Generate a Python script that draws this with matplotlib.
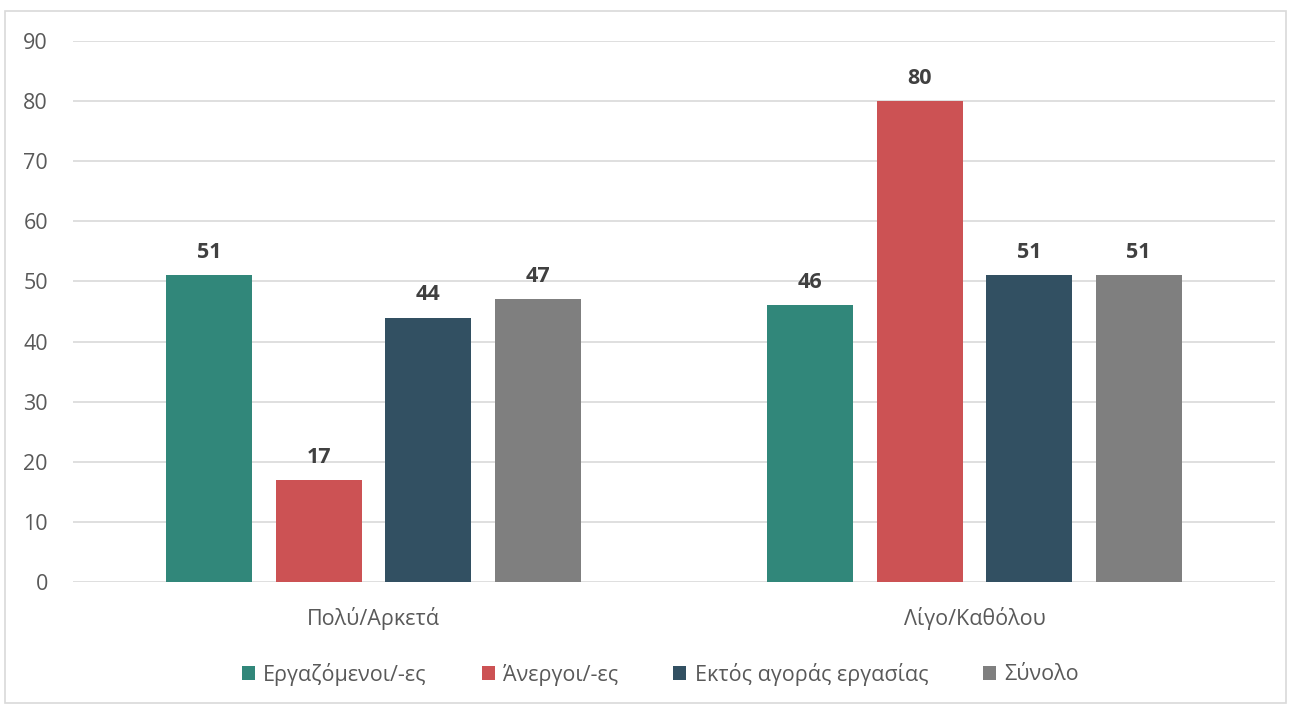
import matplotlib
matplotlib.use('Agg')
import matplotlib.pyplot as plt
from matplotlib.patches import Rectangle
import numpy as np

categories = ['Πολύ/Αρκετά', 'Λίγο/Καθόλου']
series_names = ['Εργαζόμενοι/-ες', 'Άνεργοι/-ες', 'Εκτός αγοράς εργασίας', 'Σύνολο']
employed = [51, 46]
unemployed = [17, 80]
outside = [44, 51]
total = [47, 51]
yticks = [0, 10, 20, 30, 40, 50, 60, 70, 80, 90]

colors = ['#31877A', '#CC5254', '#325062', '#7F7F7F']

plt.rcParams['font.family'] = ['Open Sans', 'DejaVu Sans']

fig = plt.figure(figsize=(12.9, 7.06), dpi=100)
# outer chart border
fig.patches.append(Rectangle((5 / 1290, 3 / 706), 1281 / 1290, 692 / 706,
                             transform=fig.transFigure, fill=False,
                             edgecolor='#D9D9D9', linewidth=1.2))

ax = fig.add_axes([73 / 1290, 1 - 582 / 706, 1202 / 1290, 541 / 706])

x = np.arange(len(categories))
width = 0.143
step = 0.182
for i, (vals, name) in enumerate(zip([employed, unemployed, outside, total], series_names)):
    pos = x + (i - 1.5) * step
    bars = ax.bar(pos, vals, width, color=colors[i], label=name, zorder=3)
    for b, v in zip(bars, vals):
        ax.text(b.get_x() + b.get_width() / 2, v + 2.0, str(v), ha='center',
                va='bottom', fontsize=15.5, fontweight='bold', color='#404040')

ax.set_xlim(-0.5, 1.5)
ax.set_ylim(0, 90)
ax.set_yticks(yticks)
ax.set_xticks(x)
ax.set_xticklabels(categories)
ax.grid(axis='y', color='#D9D9D9', linewidth=1.2, zorder=0)
for s in ax.spines.values():
    s.set_visible(False)
ax.tick_params(axis='both', length=0, labelsize=15.5, labelcolor='#595959')
ax.tick_params(axis='y', pad=18)
ax.tick_params(axis='x', pad=18)

handles, labels = ax.get_legend_handles_labels()
fig.legend(handles, labels, loc='center', bbox_to_anchor=(0.512, 1 - 674 / 706),
           ncol=4, frameon=False, fontsize=15.5, handlelength=0.6, handleheight=0.6,
           handletextpad=0.4, columnspacing=2.55, labelcolor='#595959')

fig.savefig('out.png', dpi=100)
